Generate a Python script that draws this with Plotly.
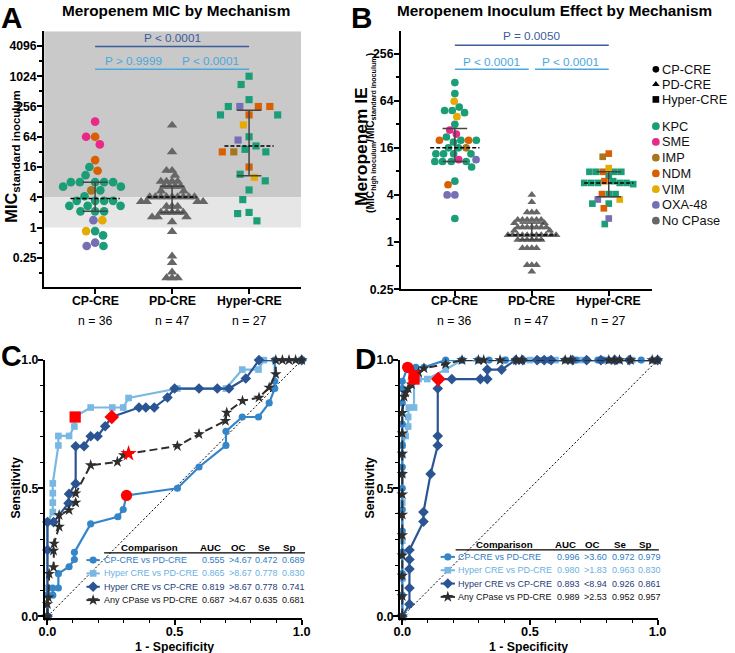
import numpy as np
import plotly.graph_objects as go

W, H = 735, 653
FONT = "Liberation Sans, Arial, sans-serif"

# ---------------- data ----------------
categories = ["CP-CRE", "PD-CRE", "Hyper-CRE"]
n_labels = ["n = 36", "n = 47", "n = 27"]
mechanisms = ["KPC", "SME", "IMP", "NDM", "VIM", "OXA-48", "No CPase"]
mech_colors = ["#1b9e77", "#e7298a", "#a6761d", "#d95f02", "#e6ab02", "#7570b3", "#666666"]

# Panel A: meropenem MIC (standard inoculum)
cp_mic = [128, 64, 64, 45, 22, 16, 13.5, 11, 8, 8, 8, 8, 8, 6.5, 6.5, 5.5, 5.5, 4.2,
          3.4, 3.4, 3.4, 3.4, 2.7, 2.7, 2.7, 2.1, 2.1, 2.1, 1.4, 1.4, 0.85, 0.85, 0.7, 0.5, 0.43, 0.43]
cp_mic_mech = ["SME", "NDM", "SME", "SME", "NDM", "KPC", "NDM", "KPC", "KPC", "KPC", "KPC", "KPC",
               "KPC", "KPC", "KPC", "IMP", "KPC", "KPC", "KPC", "KPC", "KPC", "KPC", "KPC", "KPC",
               "KPC", "KPC", "KPC", "KPC", "OXA-48", "VIM", "KPC", "VIM", "KPC", "OXA-48", "OXA-48", "KPC"]
pd_mic = [108, 32, 13.6, 13.6, 10.9, 8.3, 8.3, 8.3, 8.3, 6.6, 6.6, 6.6, 6.6, 5.3, 5.3,
          4.06, 4.06, 4.06, 4.06, 4.06, 4.06, 4.06, 4.06, 4.06, 3.27, 3.27, 3.27, 3.27,
          2.64, 2.64, 2.64, 2.0, 2.0, 2.0, 2.0, 2.0, 1.62, 1.62, 1.62, 1.3,
          0.83, 0.27, 0.2, 0.13, 0.1, 0.1, 0.1]
hy_mic = [1024, 700, 350, 256, 256, 256, 256, 174, 174, 174, 110, 64, 55, 42, 36, 32, 32, 32, 16,
          11.5, 10, 8.5, 5.6, 3.6, 2.0, 1.9, 1.36]
hy_mic_mech = ["KPC", "KPC", "KPC", "OXA-48", "NDM", "KPC", "NDM", "NDM", "KPC", "KPC", "VIM", "KPC",
               "OXA-48", "KPC", "KPC", "IMP", "KPC", "NDM", "NDM", "KPC", "VIM", "KPC", "KPC", "KPC",
               "KPC", "KPC", "KPC"]

# Panel B: meropenem inoculum effect
cp_ie = [109, 79, 63, 53, 48, 48, 45, 40, 32, 27, 24, 22, 20, 20, 20, 20, 19, 16, 16, 16,
         13.4, 13.4, 13.4, 13.4, 11.3, 11.3, 10.7, 10.7, 10.7, 10.7, 9.1, 6, 5.4, 4, 4, 2]
cp_ie_mech = ["KPC", "KPC", "VIM", "KPC", "KPC", "KPC", "KPC", "VIM", "KPC", "SME", "SME", "KPC",
              "KPC", "NDM", "NDM", "KPC", "KPC", "KPC", "KPC", "IMP", "KPC", "KPC", "KPC", "KPC",
              "SME", "OXA-48", "KPC", "KPC", "KPC", "KPC", "KPC", "KPC", "NDM", "OXA-48", "OXA-48", "KPC"]
pd_ie = [4.0, 3.25, 2.4, 2.4, 2.4, 1.93, 1.93, 1.93, 1.93, 1.93, 1.93, 1.75, 1.75,
         1.54, 1.54, 1.54, 1.54, 1.54, 1.54, 1.54, 1.4, 1.4,
         1.23, 1.23, 1.23, 1.23, 1.23, 1.23, 1.23, 1.23, 1.23, 1.23, 1.23,
         1.07, 1.07, 1.07, 1.07, 1.07, 1.07, 0.84, 0.84, 0.84, 0.84, 0.51, 0.51, 0.51, 0.42]
hy_ie = [13.5, 12.3, 8.8, 7.9, 7.9, 7.9, 7.9, 7.9, 7, 6, 6, 5.7, 5.7, 5.7, 5.7, 5.7, 5.5,
         4.1, 4.1, 4.1, 3.5, 3.5, 3.1, 3.1, 2.7, 2.0, 1.7]
hy_ie_mech = ["NDM", "IMP", "VIM", "NDM", "KPC", "KPC", "KPC", "KPC", "KPC", "NDM", "KPC", "KPC",
              "KPC", "KPC", "KPC", "KPC", "KPC", "KPC", "NDM", "KPC", "OXA-48", "VIM", "KPC", "KPC",
              "NDM", "OXA-48", "KPC"]

mic_ticks = [0.25, 1, 4, 16, 64, 256, 1024, 4096]
mic_minor = [0.125, 0.5, 2, 8, 32, 128, 512, 2048]
ie_ticks = [0.25, 1, 4, 16, 64, 256]
ie_minor = [0.5, 2, 8, 32, 128]
susceptible_bp = 1
resistant_bp = 4

a_p_outer = "P &lt; 0.0001"
a_p_inner = ["P &gt; 0.9999", "P &lt; 0.0001"]
b_p_outer = "P = 0.0050"
b_p_inner = ["P &lt; 0.0001", "P &lt; 0.0001"]

# Panel C ROC (MIC)
C_cp_fpr = [0.000, 0.000, 0.021, 0.021, 0.043, 0.043, 0.085, 0.106, 0.106, 0.170, 0.277, 0.298, 0.311,
            0.511, 0.596, 0.702, 0.702, 0.766, 0.830, 0.872, 0.894, 0.894, 0.894, 1.000]
C_cp_tpr = [0.000, 0.083, 0.083, 0.111, 0.111, 0.167, 0.194, 0.222, 0.250, 0.361, 0.389, 0.417, 0.472,
            0.500, 0.583, 0.667, 0.722, 0.778, 0.778, 0.833, 0.889, 0.917, 1.000, 1.000]
C_hp_fpr = [0.000, 0.000, 0.000, 0.000, 0.021, 0.021, 0.021, 0.021, 0.043, 0.043, 0.085, 0.106, 0.106,
            0.170, 0.255, 0.298, 0.319, 0.511, 0.702, 0.766, 0.830, 0.851, 1.000]
C_hp_tpr = [0.000, 0.111, 0.259, 0.370, 0.407, 0.444, 0.481, 0.519, 0.667, 0.704, 0.704, 0.741, 0.778,
            0.815, 0.815, 0.815, 0.852, 0.889, 0.889, 0.963, 0.963, 1.000, 1.000]
C_hc_fpr = [0.000, 0.000, 0.000, 0.024, 0.083, 0.085, 0.111, 0.111, 0.144, 0.170, 0.197, 0.227, 0.253,
            0.360, 0.387, 0.420, 0.472, 0.500, 0.596, 0.668, 0.714, 0.780, 0.832, 1.000]
C_hc_tpr = [0.000, 0.259, 0.368, 0.368, 0.442, 0.478, 0.518, 0.664, 0.664, 0.703, 0.703, 0.742, 0.778,
            0.815, 0.815, 0.815, 0.854, 0.889, 0.889, 0.889, 0.889, 0.928, 1.000, 1.000]
C_any_fpr = [0.000, 0.000, 0.004, 0.007, 0.024, 0.024, 0.026, 0.046, 0.046, 0.085, 0.111, 0.111, 0.170,
             0.275, 0.300, 0.319, 0.511, 0.596, 0.700, 0.705, 0.767, 0.832, 0.872, 0.898, 0.898, 0.924,
             0.950, 0.976, 1.000]
C_any_tpr = [0.000, 0.048, 0.074, 0.166, 0.192, 0.257, 0.284, 0.350, 0.395, 0.415, 0.444, 0.480, 0.590,
             0.603, 0.629, 0.635, 0.665, 0.711, 0.763, 0.795, 0.841, 0.854, 0.893, 0.945, 1.000, 1.000,
             1.000, 1.000, 1.000]
C_cut_fpr = [0.311, 0.109, 0.253, 0.319]
C_cut_tpr = [0.472, 0.778, 0.778, 0.635]

# Panel D ROC (inoculum effect)
D_cp_fpr = [0, 0, 0, 0, 0, 0, 0, 0, 0, 0, 0, 0, 0, 0.021, 0.053, 0.085, 0.170, 0.234, 0.298, 0.340,
            0.404, 0.447, 0.468, 0.532, 0.553, 0.574, 0.638, 0.660, 0.681, 0.723, 0.766, 0.787, 0.809,
            0.830, 0.851, 0.894, 0.936, 0.979, 1.000]
D_cp_tpr = [0, 0.083, 0.167, 0.250, 0.333, 0.417, 0.500, 0.583, 0.667, 0.750, 0.833, 0.889, 0.917,
            0.972, 0.972, 0.972, 1, 1, 1, 1, 1, 1, 1, 1, 1, 1, 1, 1, 1, 1, 1, 1, 1, 1, 1, 1, 1, 1, 1]
D_hp_fpr = [0, 0, 0, 0, 0, 0, 0, 0.013, 0.023, 0.023, 0.026, 0.046, 0.046, 0.064, 0.098, 0.170, 0.234,
            0.300, 0.400, 0.500, 0.600, 0.700, 0.800, 0.900, 1.000]
D_hp_tpr = [0, 0.148, 0.296, 0.444, 0.556, 0.630, 0.667, 0.704, 0.741, 0.778, 0.815, 0.815, 0.926,
            0.926, 0.926, 0.963, 1, 1, 1, 1, 1, 1, 1, 1, 1]
D_hc_fpr = [0, 0.028, 0.028, 0.028, 0.028, 0.028, 0.083, 0.083, 0.111, 0.139, 0.139, 0.139, 0.139,
            0.194, 0.306, 0.333, 0.333, 0.389, 0.444, 0.472, 0.528, 0.556, 0.583, 0.667, 0.722, 0.778,
            0.833, 0.889, 1.000]
D_hc_tpr = [0, 0.048, 0.111, 0.185, 0.222, 0.259, 0.370, 0.407, 0.556, 0.667, 0.704, 0.889, 0.926,
            0.926, 0.926, 0.926, 0.963, 0.963, 1, 1, 1, 1, 1, 1, 1, 1, 1, 1, 1]
D_any_fpr = [0, 0, 0, 0, 0, 0, 0, 0, 0, 0, 0, 0.007, 0.013, 0.023, 0.036, 0.043, 0.064, 0.085, 0.170,
             0.234, 0.298, 0.319, 0.383, 0.447, 0.468, 0.638, 0.660, 0.809, 0.830, 0.851, 0.894, 0.979, 1.000]
D_any_tpr = [0, 0.079, 0.159, 0.238, 0.317, 0.397, 0.476, 0.556, 0.635, 0.714, 0.794, 0.857, 0.873,
             0.889, 0.905, 0.952, 0.952, 0.968, 0.984, 1, 1, 1, 1, 1, 1, 1, 1, 1, 1, 1, 1, 1, 1]
D_cut_fpr = [0.021, 0.046, 0.141, 0.040]
D_cut_tpr = [0.972, 0.926, 0.926, 0.950]

roc_names = ["CP-CRE vs PD-CRE", "Hyper CRE vs PD-CRE", "Hyper CRE vs CP-CRE", "Any CPase vs PD-CRE"]
C_auc = ["0.555", "0.865", "0.819", "0.687"]
C_oc = ["&gt;4.67", "&gt;8.67", "&gt;8.67", "&gt;4.67"]
C_se = ["0.472", "0.778", "0.778", "0.635"]
C_sp = ["0.689", "0.830", "0.741", "0.681"]
D_auc = ["0.996", "0.980", "0.893", "0.989"]
D_oc = ["&gt;3.60", "&gt;1.83", "&lt;8.94", "&gt;2.53"]
D_se = ["0.972", "0.963", "0.926", "0.952"]
D_sp = ["0.979", "0.830", "0.861", "0.957"]

# ---------------- styles ----------------
roc_colors = ["#3585c9", "#7ab8e4", "#2a5592", "#2e2e2e"]
roc_text_colors = ["#2f7cc3", "#6bb1e2", "#1f3c78", "#111111"]
roc_symbols = ["circle", "square", "diamond", "star"]
roc_msize = [7, 6.5, 8, 8.5]
group_symbols = ["circle", "triangle-up", "square"]
DARK_P = "#3c5c9c"
LIGHT_P = "#4aa8dc"

# The rendered page carries an 8px body margin and is then fitted back to the window,
# so layout positions (given below in target-picture pixels) are mapped through that.
PAGE_MARGIN = 8
SX = W / (W + 2 * PAGE_MARGIN)
SY = H / (H + 2 * PAGE_MARGIN)
K = 2 / (SX + SY)  # size compensation


def px(xp):
    return (xp / SX - PAGE_MARGIN) / W


def py(yp):
    return 1 - (yp / SY - PAGE_MARGIN) / H


def fs(s):
    return s * K


# layout geometry (target pixels)
A_left, A_right, A_top, A_bot = 45, 302, 32, 287
B_left, B_right, B_top, B_bot = 402, 653, 31.7, 289.3
A_xr = [-0.662, 2.675]
B_xr = [-0.70, 2.56]
A_l2 = [-3.92, 12.97]
B_l2 = [-2.0, 8.96]
C_dom_x = [45.7, 302.7]
D_dom_x = [401.0, 658.7]
CD_top, CD_bot = 360, 617.5
LEG_X = 657

fig = go.Figure()


def swarm_offsets(values, px_per_log2, d):
    ys = np.log2(np.asarray(values, float)) * px_per_log2
    placed = []
    xs = []
    for y in ys:
        cands = [0.0]
        for (xj, yj) in placed:
            dy = abs(y - yj)
            if dy < d:
                dx = np.sqrt(d * d - dy * dy)
                cands += [xj + dx, xj - dx]
        cands = sorted(cands, key=lambda c: (abs(c), c))
        chosen = cands[-1]
        for c in cands:
            if all((c - xj) ** 2 + (y - yj) ** 2 >= d * d - 1e-6 for xj, yj in placed):
                chosen = c
                break
        placed.append((chosen, y))
        xs.append(chosen)
    return np.array(xs)


def add_dot_panel(xa, ya, groups, l2range, xr, top, bot, left, right, dists, sizes):
    ppl = (bot - top) / (l2range[1] - l2range[0])
    ppc = (right - left) / (xr[1] - xr[0])
    for gi, (vals, mechs) in enumerate(groups):
        offs = swarm_offsets(vals, ppl, dists[gi]) / ppc + gi
        vals = np.asarray(vals, float)
        mechs = np.asarray(mechs)
        for mi, m in enumerate(mechanisms):
            sel = mechs == m
            if not sel.any():
                continue
            fig.add_trace(go.Scatter(
                x=offs[sel], y=vals[sel], mode="markers", xaxis=xa, yaxis=ya,
                marker=dict(symbol=group_symbols[gi], size=fs(sizes[gi]), color=mech_colors[mi],
                            line=dict(width=0)),
                cliponaxis=False, hoverinfo="skip"))
    for gi, (vals, mechs) in enumerate(groups):
        med = float(np.median(vals))
        q1, q3 = np.percentile(vals, [25, 75])
        fig.add_trace(go.Scatter(x=[gi, gi], y=[q1, q3], mode="lines", xaxis=xa, yaxis=ya,
                                 line=dict(color="#444444", width=1.5), hoverinfo="skip"))
        for q in (q1, q3):
            fig.add_trace(go.Scatter(x=[gi - 0.16, gi + 0.16], y=[q, q], mode="lines", xaxis=xa, yaxis=ya,
                                     line=dict(color="#444444", width=1.5), hoverinfo="skip"))
        fig.add_trace(go.Scatter(x=[gi - 0.32, gi + 0.32], y=[med, med], mode="lines", xaxis=xa, yaxis=ya,
                                 line=dict(color="black", width=1.5, dash="4px,2px"), hoverinfo="skip"))


pd_mech = ["No CPase"] * len(pd_mic)
pd_ie_mech = ["No CPase"] * len(pd_ie)
add_dot_panel("x", "y", [(cp_mic, cp_mic_mech), (pd_mic, pd_mech), (hy_mic, hy_mic_mech)],
              A_l2, A_xr, A_top, A_bot, A_left, A_right, [9.0, 5.6, 11.5], [8.5, 9, 7])
add_dot_panel("x2", "y2", [(cp_ie, cp_ie_mech), (pd_ie, pd_ie_mech), (hy_ie, hy_ie_mech)],
              B_l2, B_xr, B_top, B_bot, B_left, B_right, [7.7, 4.7, 6.8], [7.5, 7.5, 6.5])


def add_roc(xa, ya, curves, cut_fpr, cut_tpr):
    fig.add_trace(go.Scatter(x=[0, 1], y=[0, 1], mode="lines", xaxis=xa, yaxis=ya,
                             line=dict(color="black", width=1, dash="2px,2px"), hoverinfo="skip"))
    for k in [1, 0, 2, 3]:
        fx, ty = curves[k]
        fig.add_trace(go.Scatter(
            x=fx, y=ty, mode="lines+markers", xaxis=xa, yaxis=ya, cliponaxis=False,
            line=dict(color=roc_colors[k], width=2.2 if k < 3 else 2,
                      dash="solid" if k < 3 else "8px,4px"),
            marker=dict(symbol=roc_symbols[k], size=fs(roc_msize[k]), color=roc_colors[k], line=dict(width=0)),
            hoverinfo="skip"))
    for k in range(4):
        fig.add_trace(go.Scatter(
            x=[cut_fpr[k]], y=[cut_tpr[k]], mode="markers", xaxis=xa, yaxis=ya, cliponaxis=False,
            marker=dict(symbol=roc_symbols[k], size=fs(11 if k < 3 else 12), color="#ff0000",
                        line=dict(width=0)),
            hoverinfo="skip"))


add_roc("x3", "y3", [(C_cp_fpr, C_cp_tpr), (C_hp_fpr, C_hp_tpr), (C_hc_fpr, C_hc_tpr), (C_any_fpr, C_any_tpr)],
        C_cut_fpr, C_cut_tpr)
add_roc("x4", "y4", [(D_cp_fpr, D_cp_tpr), (D_hp_fpr, D_hp_tpr), (D_hc_fpr, D_hc_tpr), (D_any_fpr, D_any_tpr)],
        D_cut_fpr, D_cut_tpr)

# ---- legend glyphs on a full-page overlay (target-pixel coordinates) ----
shape_names = ["CP-CRE", "PD-CRE", "Hyper-CRE"]
for i, nm in enumerate(shape_names):
    fig.add_trace(go.Scatter(x=[LEG_X], y=[70 + 15 * i], mode="markers", xaxis="x5", yaxis="y5",
                             marker=dict(symbol=group_symbols[i], size=fs(6.5), color="black"),
                             cliponaxis=False, hoverinfo="skip"))
for i, m in enumerate(mechanisms):
    fig.add_trace(go.Scatter(x=[LEG_X], y=[126.7 + 15.7 * i], mode="markers", xaxis="x5", yaxis="y5",
                             marker=dict(symbol="circle", size=fs(7.5), color=mech_colors[i]),
                             cliponaxis=False, hoverinfo="skip"))

for (gx0, gx1, row0) in [(87.3, 100.7, 559.5), (441.7, 456.0, 556.3)]:
    for k in range(4):
        yy = row0 + 13.3 * k
        fig.add_trace(go.Scatter(x=[gx0, (gx0 + gx1) / 2, gx1], y=[yy, yy, yy], mode="lines", xaxis="x5",
                                 yaxis="y5", line=dict(color=roc_colors[k], width=2), cliponaxis=False,
                                 hoverinfo="skip"))
        fig.add_trace(go.Scatter(x=[(gx0 + gx1) / 2], y=[yy], mode="markers", xaxis="x5", yaxis="y5",
                                 marker=dict(symbol=roc_symbols[k], size=fs(roc_msize[k]), color=roc_colors[k]),
                                 cliponaxis=False, hoverinfo="skip"))

# ---------------- shapes ----------------
shapes = []
a_top_val = 2 ** A_l2[1]
shapes.append(dict(type="rect", xref="x", yref="y", x0=A_xr[0], x1=A_xr[1], y0=resistant_bp,
                   y1=a_top_val, fillcolor="#c9c9c9", line=dict(width=0), layer="below"))
shapes.append(dict(type="rect", xref="x", yref="y", x0=A_xr[0], x1=A_xr[1], y0=susceptible_bp,
                   y1=resistant_bp, fillcolor="#e6e6e6", line=dict(width=0), layer="below"))
shapes.append(dict(type="line", xref="x", yref="paper", x0=0, x1=2, y0=py(47.3), y1=py(47.3),
                   line=dict(color=DARK_P, width=1.5)))
shapes.append(dict(type="line", xref="x", yref="paper", x0=0, x1=2, y0=py(70), y1=py(70),
                   line=dict(color=LIGHT_P, width=1.5)))
shapes.append(dict(type="line", xref="x2", yref="paper", x0=0, x1=2, y0=py(46), y1=py(46),
                   line=dict(color=DARK_P, width=1.5)))
shapes.append(dict(type="line", xref="x2", yref="paper", x0=0, x1=0.96, y0=py(70), y1=py(70),
                   line=dict(color=LIGHT_P, width=1.5)))
shapes.append(dict(type="line", xref="x2", yref="paper", x0=1.04, x1=2, y0=py(70), y1=py(70),
                   line=dict(color=LIGHT_P, width=1.5)))
shapes.append(dict(type="line", xref="paper", yref="paper", x0=px(105), x1=px(306), y0=py(552.3),
                   y1=py(552.3), line=dict(color="black", width=1.3)))
shapes.append(dict(type="line", xref="paper", yref="paper", x0=px(456.7), x1=px(660), y0=py(549.3),
                   y1=py(549.3), line=dict(color="black", width=1.3)))

# ---------------- annotations ----------------
ann = []


def A(text, x, y, size=12, color="black", xanchor="center", yanchor="middle", angle=0, xref="paper",
      yref="paper", bold=False, pad=1):
    ann.append(dict(text=("<b>%s</b>" % text) if bold else text, x=x, y=y, xref=xref, yref=yref,
                    xanchor=xanchor, yanchor=yanchor, textangle=angle, showarrow=False, borderpad=pad,
                    font=dict(family=FONT, size=fs(size), color=color)))


A("A", px(12), py(18), size=29, bold=True)
A("B", px(362.5), py(18), size=29, bold=True)
A("C", px(12.5), py(356), size=28, bold=True, pad=0)
A("D", px(366), py(358), size=29, bold=True)
A("Meropenem MIC by Mechanism", px(177), py(11.5), size=15, bold=True)
A("Meropenem Inoculum Effect by Mechanism", px(556), py(11.5), size=15, bold=True)
A("MIC<sub>standard inoculum</sub>", px(12), py(157), size=16, angle=-90, bold=True)
A("Meropenem IE", px(361.5), py(147), size=17, angle=-90, bold=True)
A("(MIC<sub>high inoculum</sub>/MIC<sub>standard inoculum</sub>)", px(372.5), py(133), size=10,
  angle=-90, bold=True)
for i, c in enumerate(categories):
    for xa in ("x", "x2"):
        A(c, i, py(300.7), size=12, xref=xa, bold=True)
        A(n_labels[i], i, py(320.7), size=12, xref=xa)
A(a_p_outer, 1, py(38.3), size=11.5, color=DARK_P, xref="x")
A(a_p_inner[0], 0.5, py(60.7), size=11.5, color=LIGHT_P, xref="x")
A(a_p_inner[1], 1.5, py(60.7), size=11.5, color=LIGHT_P, xref="x")
A(b_p_outer, 1, py(36.7), size=11.5, color=DARK_P, xref="x2")
A(b_p_inner[0], 0.48, py(61.7), size=11.5, color=LIGHT_P, xref="x2")
A(b_p_inner[1], 1.5, py(61.7), size=11.5, color=LIGHT_P, xref="x2")
for i, nm in enumerate(shape_names):
    A(nm, px(LEG_X + 4), py(70 + 15 * i), size=12.5, color="#111111", xanchor="left")
for i, m in enumerate(mechanisms):
    A(m, px(LEG_X + 4), py(126.7 + 15.7 * i), size=12.5, color="#111111", xanchor="left")
A("Sensitivity", px(17), py(487), size=12, angle=-90, bold=True)
A("Sensitivity", px(371), py(487), size=12, angle=-90, bold=True)
A("1 - Specificity", px(175), py(646), size=12, bold=True)
A("1 - Specificity", px(530), py(646), size=12, bold=True)


def table(hx, hy, cols_x, row0, vals):
    heads = ["Comparison", "AUC", "OC", "Se", "Sp"]
    for h, xx in zip(heads, hx):
        A(h, px(xx), py(hy), size=9.5, bold=True)
    for k in range(4):
        yy = row0 + 13.3 * k
        row = [roc_names[k]] + [v[k] for v in vals]
        for t, xx in zip(row, cols_x):
            A(t, px(xx), py(yy), size=8.8, color=roc_text_colors[k], xanchor="left")


table([150.5, 211.7, 239.2, 265.3, 290], 546.5, [102.7, 200.7, 227.7, 254, 281], 559.5,
      [C_auc, C_oc, C_se, C_sp])
table([505.5, 566.2, 593.3, 620.8, 645.8], 543.5, [457.3, 556, 582.7, 610.7, 637.3], 556.3,
      [D_auc, D_oc, D_se, D_sp])

# ---------------- axes ----------------
tickfont = dict(family=FONT, size=fs(12), color="black", weight="bold")
axline = dict(showline=True, linecolor="black", linewidth=1.8, ticks="outside", ticklen=fs(5), tickwidth=1.5,
              tickcolor="black", showgrid=False, zeroline=False, fixedrange=True)


def dom_x(l, r):
    return [px(l), px(r)]


def dom_y(t, b):
    return [py(b), py(t)]


minor_lin = dict(dtick=0.1, tick0=0, ticklen=fs(3), tickwidth=1.2, ticks="outside", tickcolor="black")
minor_log = lambda tv: dict(tickvals=tv, ticklen=fs(3), tickwidth=1.5, ticks="outside", tickcolor="black")
layout = dict(
    width=W, height=H, margin=dict(l=0, r=0, t=0, b=0, pad=0), showlegend=False,
    paper_bgcolor="white", plot_bgcolor="rgba(0,0,0,0)",
    font=dict(family=FONT, color="black"),
    xaxis=dict(domain=dom_x(A_left, A_right), range=A_xr, tickvals=[0, 1, 2], showticklabels=False,
               anchor="y", **axline),
    yaxis=dict(domain=dom_y(A_top, A_bot), type="log",
               range=[A_l2[0] * np.log10(2), A_l2[1] * np.log10(2)],
               tickvals=mic_ticks, ticktext=[str(t) for t in mic_ticks], tickfont=tickfont,
               ticklabelstandoff=-2, minor=minor_log(mic_minor), anchor="x", **axline),
    xaxis2=dict(domain=dom_x(B_left, B_right), range=B_xr, tickvals=[0, 1, 2], showticklabels=False,
                anchor="y2", **axline),
    yaxis2=dict(domain=dom_y(B_top, B_bot), type="log",
                range=[B_l2[0] * np.log10(2), B_l2[1] * np.log10(2)],
                tickvals=ie_ticks, ticktext=[str(t) for t in ie_ticks], tickfont=tickfont,
                ticklabelstandoff=-2, minor=minor_log(ie_minor), anchor="x2", **axline),
    xaxis3=dict(domain=dom_x(*C_dom_x), range=[-0.0102, 1.0], tickvals=[0, 0.5, 1],
                ticktext=["0.0", "0.5", "1.0"], tickfont=dict(tickfont, size=fs(12.5)),
                ticklabelstandoff=-5, minor=minor_lin, anchor="y3", **axline),
    yaxis3=dict(domain=dom_y(CD_top, CD_bot), range=[-0.007, 1.0], tickvals=[0, 0.5, 1],
                ticktext=["0.0", "0.5", "1.0"], tickfont=tickfont,
                ticklabelstandoff=-3, minor=minor_lin, anchor="x3", **axline),
    xaxis4=dict(domain=dom_x(*D_dom_x), range=[-0.009, 1.0], tickvals=[0, 0.5, 1],
                ticktext=["0.0", "0.5", "1.0"], tickfont=dict(tickfont, size=fs(12.5)),
                ticklabelstandoff=-5, minor=minor_lin, anchor="y4", **axline),
    yaxis4=dict(domain=dom_y(CD_top, CD_bot), range=[-0.007, 1.0], tickvals=[0, 0.5, 1],
                ticktext=["0.0", "0.5", "1.0"], tickfont=tickfont,
                ticklabelstandoff=-3, minor=minor_lin, anchor="x4", **axline),
    xaxis5=dict(domain=[0, 1], range=[PAGE_MARGIN * SX, (W + PAGE_MARGIN) * SX], visible=False,
                fixedrange=True, anchor="y5"),
    yaxis5=dict(domain=[0, 1], range=[(H + PAGE_MARGIN) * SY, PAGE_MARGIN * SY], visible=False,
                fixedrange=True, anchor="x5"),
    shapes=shapes, annotations=ann,
)
fig.update_layout(**layout)
fig.write_html("out.html")
